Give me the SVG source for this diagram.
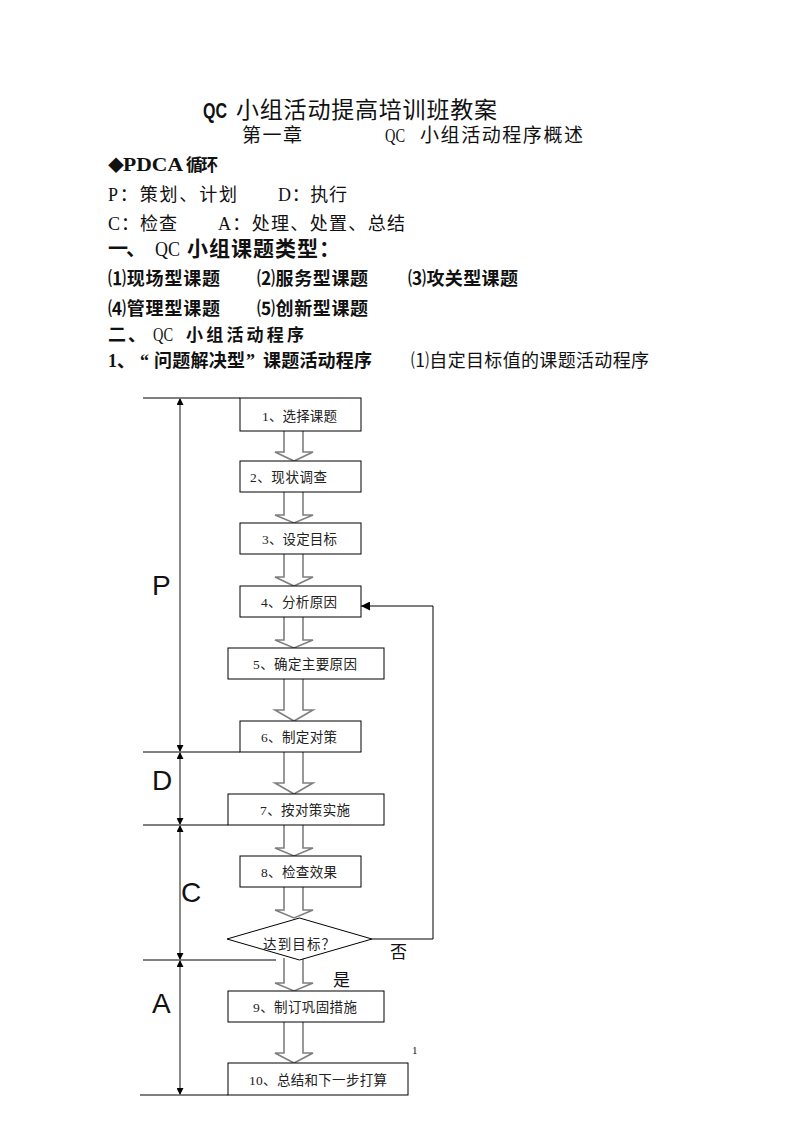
<svg xmlns="http://www.w3.org/2000/svg" width="793" height="1122" viewBox="0 0 793 1122">
<style>
  .t { font-family: "Liberation Serif", "Noto Sans CJK SC", serif; fill: #111; }
  .s { font-family: "Liberation Sans", "Noto Sans CJK SC", sans-serif; fill: #111; }
  .b { font-weight: bold; }
  .box { fill: #fff; stroke: #000; stroke-width: 1; }
  .bt { font-family: "Liberation Serif", "Noto Sans CJK SC", serif; font-size: 13.5px; fill: #222; }
  .blk { fill: #fff; stroke: #7f7f7f; stroke-width: 1.6; stroke-linejoin: miter; }
  .dim { stroke: #8a8a8a; stroke-width: 2; fill: none; marker-start: url(#dimA); marker-end: url(#dimA); }
  .div { stroke: #000; stroke-width: 1; }
  .fb { stroke: #000; stroke-width: 1; fill: none; marker-end: url(#fbA); }
  .ph { font-family: "Liberation Sans", "DejaVu Sans", sans-serif; font-size: 28px; fill: #111; }
</style>
<defs>
  <marker id="dimA" viewBox="0 0 7 7" refX="7" refY="3.5" markerWidth="7" markerHeight="7" markerUnits="userSpaceOnUse" orient="auto-start-reverse">
    <path d="M0,0 L7,3.5 L0,7 z" fill="#000"/>
  </marker>
  <marker id="fbA" viewBox="0 0 9 9" refX="9" refY="4.5" markerWidth="9" markerHeight="9" markerUnits="userSpaceOnUse" orient="auto">
    <path d="M0,0 L9,4.5 L0,9 z" fill="#000"/>
  </marker>
</defs>
<rect width="793" height="1122" fill="#fff"/>

<!-- Header text -->
<g id="header">
  <text class="s b" x="203" y="118" font-size="22" textLength="24" lengthAdjust="spacingAndGlyphs">QC</text>
  <text class="t" x="236" y="118" font-size="23" textLength="261">小组活动提高培训班教案</text>
  <text class="t" x="242" y="142" font-size="19" textLength="60">第一章</text>
  <text class="t" x="385" y="142" font-size="19" textLength="20" lengthAdjust="spacingAndGlyphs">QC</text>
  <text class="t" x="420" y="142" font-size="19" textLength="163">小组活动程序概述</text>
  <text class="t b" x="108" y="171" font-size="16">◆</text>
  <text class="t b" x="123" y="171" font-size="19" textLength="60" lengthAdjust="spacingAndGlyphs">PDCA</text>
  <text class="t b" x="186" y="171" font-size="17" textLength="32">循环</text>
  <text class="t" x="108" y="201" font-size="18" textLength="129">P：策划、计划</text>
  <text class="t" x="278" y="201" font-size="18" textLength="69">D：执行</text>
  <text class="t" x="108" y="230" font-size="18" textLength="69">C：检查</text>
  <text class="t" x="218" y="230" font-size="18" textLength="187">A：处理、处置、总结</text>
  <text class="t b" x="108" y="256" font-size="20" textLength="38">一、</text>
  <text class="t" x="155" y="256" font-size="20" textLength="25" lengthAdjust="spacingAndGlyphs">QC</text>
  <text class="t b" x="187" y="256" font-size="21" textLength="153">小组课题类型：</text>
  <text class="t b" x="108" y="285" font-size="18" textLength="112">⑴现场型课题</text>
  <text class="t b" x="257" y="285" font-size="18" textLength="111">⑵服务型课题</text>
  <text class="t b" x="408" y="285" font-size="18" textLength="110">⑶攻关型课题</text>
  <text class="t b" x="108" y="315" font-size="18" textLength="112">⑷管理型课题</text>
  <text class="t b" x="257" y="315" font-size="18" textLength="111">⑸创新型课题</text>
  <text class="t b" x="108" y="341" font-size="18" textLength="38">二、</text>
  <text class="t" x="153" y="341" font-size="19" textLength="20" lengthAdjust="spacingAndGlyphs">QC</text>
  <text class="t b" x="186" y="341" font-size="17" textLength="118">小组活动程序</text>
  <text class="t b" x="108" y="367" font-size="18" textLength="27">1、</text>
  <text class="t b" x="140" y="367" font-size="18">“</text>
  <text class="t b" x="154" y="367" font-size="18" textLength="91">问题解决型</text>
  <text class="t b" x="246" y="367" font-size="18">”</text>
  <text class="t b" x="263" y="367" font-size="18" textLength="109">课题活动程序</text>
  <text class="t" x="411" y="367" font-size="18" textLength="238">⑴自定目标值的课题活动程序</text>
</g>

<!-- Connectors -->
<g id="connectors">
  <path class="blk" d="M284,431 L284,452 L275,452 L294,461 L313,452 L303,452 L303,431"/>
  <path class="blk" d="M284,492 L284,515 L275,515 L294,523 L313,515 L303,515 L303,492"/>
  <path class="blk" d="M284,554 L284,577 L275,577 L294,586 L313,577 L303,577 L303,554"/>
  <path class="blk" d="M284,617 L284,640 L275,640 L294,648 L313,640 L303,640 L303,617"/>
  <path class="blk" d="M284,679 L284,710 L275,710 L294,721 L313,710 L303,710 L303,679"/>
  <path class="blk" d="M284,752 L284,783 L275,783 L294,794 L313,783 L303,783 L303,752"/>
  <path class="blk" d="M284,825 L284,848 L275,848 L294,856 L313,848 L303,848 L303,825"/>
  <path class="blk" d="M284,887 L284,910 L275,910 L294,918 L313,910 L303,910 L303,887"/>
  <path class="blk" d="M284,958 L284,983 L275,983 L294,991 L313,983 L303,983 L303,958"/>
  <path class="blk" d="M284,1022 L284,1053 L275,1053 L294,1063 L313,1053 L303,1053 L303,1022"/>
  <polyline class="fb" points="372,939 433,939 433,606 361,606"/>
</g>

<!-- PDCA dimension lines and dividers -->
<g id="phases">
  <line class="div" x1="143" y1="398" x2="240" y2="398"/>
  <line class="div" x1="143" y1="752" x2="240" y2="752"/>
  <line class="div" x1="143" y1="825" x2="228" y2="825"/>
  <line class="div" x1="143" y1="960" x2="276" y2="960"/>
  <line class="div" x1="140" y1="1095" x2="228" y2="1095"/>
  <line class="dim" x1="180" y1="398" x2="180" y2="752"/>
  <line class="dim" x1="180" y1="752" x2="180" y2="825"/>
  <line class="dim" x1="180" y1="825" x2="180" y2="960"/>
  <line class="dim" x1="180" y1="960" x2="180" y2="1095"/>
  <text class="ph" x="152" y="595">P</text>
  <text class="ph" x="152" y="790">D</text>
  <text class="ph" x="181" y="902">C</text>
  <text class="ph" x="152" y="1013">A</text>
</g>

<!-- Nodes -->
<g id="n1"><rect class="box" x="240" y="398" width="121" height="33"/><text class="bt" x="262" y="420.5" textLength="75">1、选择课题</text></g>
<g id="n2"><rect class="box" x="240" y="461" width="121" height="31"/><text class="bt" x="250" y="482" textLength="77">2、现状调查</text></g>
<g id="n3"><rect class="box" x="240" y="523" width="121" height="31"/><text class="bt" x="262" y="544" textLength="75">3、设定目标</text></g>
<g id="n4"><rect class="box" x="240" y="586" width="121" height="31"/><text class="bt" x="261" y="607" textLength="76">4、分析原因</text></g>
<g id="n5"><rect class="box" x="228" y="648" width="156" height="31"/><text class="bt" x="253" y="669" textLength="104">5、确定主要原因</text></g>
<g id="n6"><rect class="box" x="240" y="721" width="121" height="31"/><text class="bt" x="261" y="742" textLength="76">6、制定对策</text></g>
<g id="n7"><rect class="box" x="228" y="794" width="156" height="31"/><text class="bt" x="260" y="815" textLength="90">7、按对策实施</text></g>
<g id="n8"><rect class="box" x="240" y="856" width="121" height="31"/><text class="bt" x="261" y="877" textLength="76">8、检查效果</text></g>
<g id="n_decision"><polygon class="box" points="299.5,918 372,939 299.5,960 227,939"/><text class="bt" x="263" y="949" textLength="72">达到目标？</text></g>
<g id="n9"><rect class="box" x="228" y="991" width="156" height="31"/><text class="bt" x="253" y="1012" textLength="104">9、制订巩固措施</text></g>
<g id="n10"><rect class="box" x="228" y="1063" width="180" height="32"/><text class="bt" x="249" y="1084.5" textLength="138">10、总结和下一步打算</text></g>

<g id="labels">
  <text class="t" x="390" y="958" font-size="17">否</text>
  <text class="t" x="333" y="986" font-size="17">是</text>
  <text class="t" x="412" y="1054" font-size="11">1</text>
</g>
</svg>
